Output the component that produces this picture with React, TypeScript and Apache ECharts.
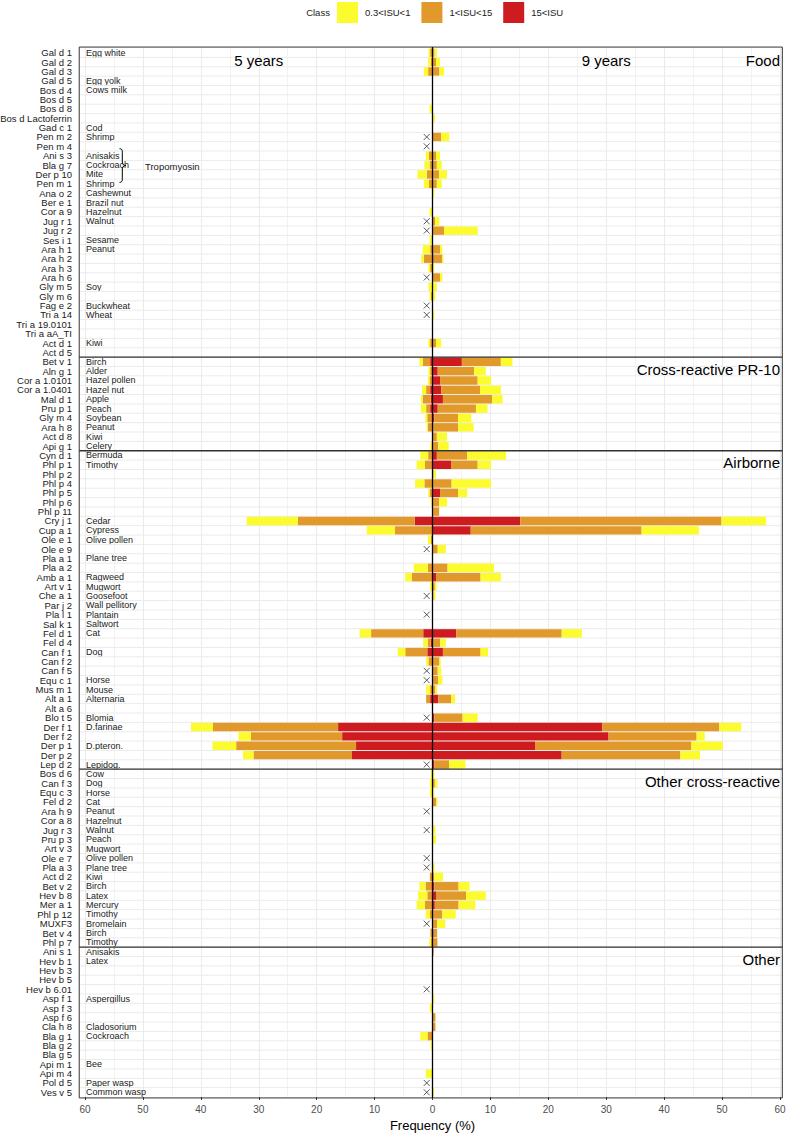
import React, { useEffect, useRef } from "react";
import * as echarts from "echarts";

const FONT = "'Liberation Sans', Arial, Helvetica, sans-serif";

const codes = [
  "Gal d 1", "Gal d 2", "Gal d 3", "Gal d 5", "Bos d 4", "Bos d 5", "Bos d 8", "Bos d Lactoferrin", "Gad c 1", "Pen m 2", "Pen m 4",
  "Ani s 3", "Bla g 7", "Der p 10", "Pen m 1", "Ana o 2", "Ber e 1", "Cor a 9", "Jug r 1", "Jug r 2", "Ses i 1", "Ara h 1",
  "Ara h 2", "Ara h 3", "Ara h 6", "Gly m 5", "Gly m 6", "Fag e 2", "Tri a 14", "Tri a 19.0101", "Tri a aA_TI", "Act d 1", "Act d 5",
  "Bet v 1", "Aln g 1", "Cor a 1.0101", "Cor a 1.0401", "Mal d 1", "Pru p 1", "Gly m 4", "Ara h 8", "Act d 8", "Api g 1",
  "Cyn d 1", "Phl p 1", "Phl p 2", "Phl p 4", "Phl p 5", "Phl p 6", "Phl p 11", "Cry j 1", "Cup a 1", "Ole e 1", "Ole e 9",
  "Pla a 1", "Pla a 2", "Amb a 1", "Art v 1", "Che a 1", "Par j 2", "Pla l 1", "Sal k 1", "Fel d 1", "Fel d 4", "Can f 1",
  "Can f 2", "Can f 5", "Equ c 1", "Mus m 1", "Alt a 1", "Alt a 6", "Blo t 5", "Der f 1", "Der f 2", "Der p 1", "Der p 2", "Lep d 2",
  "Bos d 6", "Can f 3", "Equ c 3", "Fel d 2", "Ara h 9", "Cor a 8", "Jug r 3", "Pru p 3", "Art v 3", "Ole e 7", "Pla a 3",
  "Act d 2", "Bet v 2", "Hev b 8", "Mer a 1", "Phl p 12", "MUXF3", "Bet v 4", "Phl p 7",
  "Ani s 1", "Hev b 1", "Hev b 3", "Hev b 5", "Hev b 6.01", "Asp f 1", "Asp f 3", "Asp f 6", "Cla h 8", "Bla g 1", "Bla g 2",
  "Bla g 5", "Api m 1", "Api m 4", "Pol d 5", "Ves v 5",
];

const sources = [
  "Egg white", "", "", "Egg yolk", "Cows milk", "", "", "", "Cod", "Shrimp", "",
  "Anisakis", "Cockroach", "Mite", "Shrimp", "Cashewnut", "Brazil nut", "Hazelnut", "Walnut", "", "Sesame", "Peanut",
  "", "", "", "Soy", "", "Buckwheat", "Wheat", "", "", "Kiwi", "",
  "Birch", "Alder", "Hazel pollen", "Hazel nut", "Apple", "Peach", "Soybean", "Peanut", "Kiwi", "Celery",
  "Bermuda", "Timothy", "", "", "", "", "", "Cedar", "Cypress", "Olive pollen", "",
  "Plane tree", "", "Ragweed", "Mugwort", "Goosefoot", "Wall pellitory", "Plantain", "Saltwort", "Cat", "", "Dog",
  "", "", "Horse", "Mouse", "Alternaria", "", "Blomia", "D.farinae", "", "D.pteron.", "", "Lepidog.",
  "Cow", "Dog", "Horse", "Cat", "Peanut", "Hazelnut", "Walnut", "Peach", "Mugwort", "Olive pollen", "Plane tree",
  "Kiwi", "Birch", "Latex", "Mercury", "Timothy", "Bromelain", "Birch", "Timothy",
  "Anisakis", "Latex", "", "", "", "Aspergillus", "", "", "Cladosorium", "Cockroach", "",
  "", "Bee", "", "Paper wasp", "Common wasp",
];

const facetNames = ["Food", "Cross-reactive PR-10", "Airborne", "Other cross-reactive", "Other"];
const facetStarts = [0, 33, 43, 77, 96];

const notTestedAt5 = [
  "Pen m 2", "Pen m 4", "Jug r 1", "Jug r 2", "Ara h 6", "Fag e 2", "Tri a 14",
  "Ole e 9", "Che a 1", "Pla l 1", "Can f 5", "Equ c 1", "Blo t 5", "Lep d 2",
  "Ara h 9", "Jug r 3", "Ole e 7", "Pla a 3", "MUXF3", "Hev b 6.01", "Pol d 5", "Ves v 5",
];

// Cumulative frequencies (%) at 5 years: ISU>15, ISU>1, ISU>0.3
const y5Over15 = [
  0, 0, 0, 0, 0, 0, 0, 0, 0, 0, 0, 0, 0, 0, 0, 0, 0, 0, 0, 0, 0, 0, 0, 0, 0, 0, 0, 0, 0, 0, 0, 0, 0,
  0.4, 0, 0, 0.4, 0.3, 0.4, 0, 0, 0, 0,
  0.1, 0, 0, 0, 0, 0, 0, 3.07, 0, 0, 0, 0, 0, 0, 0, 0, 0, 0, 0, 1.6, 0.3, 0.9, 0, 0, 0, 0, 0.4, 0, 0, 16.3, 15.6, 13.2, 13.9, 0,
  0, 0, 0, 0, 0, 0, 0, 0, 0, 0, 0, 0, 0, 0, 0, 0, 0, 0, 0,
  0, 0, 0, 0, 0, 0, 0, 0, 0, 0, 0, 0, 0, 0, 0, 0,
];
const y5Over1 = [
  0.4, 0.3, 0.75, 0, 0, 0, 0, 0, 0, 0, 0, 0.6, 0.5, 1.0, 0.6, 0, 0, 0, 0, 0, 0, 0.4, 1.5, 0.4, 0, 0, 0.25, 0, 0, 0, 0, 0.4, 0,
  1.7, 0.4, 0.5, 1.1, 1.7, 1.1, 0.9, 0.8, 0, 0,
  0.75, 1.3, 0, 1.4, 0.5, 0, 0, 23.25, 6.5, 0.3, 0, 0, 0.8, 3.55, 0, 0, 0, 0, 0, 10.6, 0.8, 4.7, 0.7, 0, 0, 0.4, 1.1, 0, 0, 37.9, 31.35, 33.9, 30.9, 0,
  0, 0, 0, 0, 0, 0, 0, 0, 0, 0, 0, 0.45, 1.2, 0.9, 1.3, 0.45, 0, 0.35, 0.25,
  0, 0, 0, 0, 0, 0, 0, 0, 0, 0.85, 0, 0, 0, 0, 0, 0,
];
const y5Over03 = [
  0.7, 0.75, 1.5, 0, 0, 0, 0.5, 0, 0, 0, 0, 1.15, 1.4, 2.6, 1.5, 0, 0, 0.5, 0, 0, 0.5, 1.7, 1.95, 0.7, 0, 0.7, 0.5, 0, 0, 0, 0, 0.7, 0,
  2.25, 0.7, 0.8, 1.8, 2.0, 2.0, 1.25, 1.0, 0, 0.35,
  2.1, 2.75, 0, 3.0, 0.75, 0.2, 0, 32.1, 11.35, 0.8, 0, 0, 3.25, 4.7, 0.4, 0, 0, 0, 0, 12.6, 1.6, 6.0, 1.1, 0, 0, 1.1, 1.1, 0, 0, 41.7, 33.5, 38.0, 32.7, 0,
  0.25, 0.45, 0.45, 0, 0, 0, 0, 0, 0, 0, 0, 0.45, 2.25, 2.5, 2.75, 1.15, 0, 0.35, 0.55,
  0, 0, 0, 0, 0, 0, 0.45, 0, 0, 2.1, 0.3, 0, 0, 1.15, 0, 0,
];

// Cumulative frequencies (%) at 9 years: ISU>15, ISU>1, ISU>0.3
const y9Over15 = [
  0, 0, 0, 0, 0, 0, 0, 0, 0, 0, 0, 0, 0, 0, 0, 0, 0, 0, 0, 0, 0, 0, 0.2, 0, 0, 0, 0, 0, 0, 0, 0, 0, 0,
  5.07, 0.9, 1.3, 1.5, 1.8, 0.9, 0.3, 0, 0, 0,
  0.75, 3.2, 0, 0, 1.3, 0, 0, 15.15, 6.6, 0, 0, 0, 0, 0.6, 0, 0, 0, 0, 0, 4.1, 0, 1.8, 0, 0, 0, 0, 1.0, 0, 0.3, 29.3, 30.4, 17.7, 22.3, 0.3,
  0, 0, 0, 0, 0, 0, 0, 0, 0, 0, 0, 0, 0.3, 0.7, 0.4, 0, 0, 0.2, 0,
  0.15, 0, 0, 0, 0, 0, 0, 0, 0, 0, 0, 0, 0, 0, 0, 0,
];
const y9Over1 = [
  0.35, 0.6, 1.2, 0, 0, 0, 0, 0, 0, 1.5, 0, 0.6, 0.75, 1.15, 0.75, 0, 0, 0, 0.45, 2.0, 0, 1.3, 1.7, 0, 1.3, 0, 0, 0, 0, 0, 0, 0.6, 0,
  11.8, 7.2, 7.8, 8.2, 10.3, 7.5, 4.4, 4.4, 0.75, 1.0,
  6.0, 7.8, 0.2, 3.3, 4.4, 1.15, 1.15, 49.9, 36.1, 0, 0.9, 0, 2.6, 8.3, 0.4, 0.2, 0, 0, 0, 22.3, 1.35, 8.3, 1.2, 0.9, 1.0, 0.5, 3.2, 0, 5.2, 49.5, 45.6, 44.7, 42.8, 2.9,
  0, 0.4, 0, 0.6, 0, 0, 0, 0, 0, 0, 0, 0.3, 4.5, 5.8, 4.5, 1.7, 0.8, 0.8, 0.85,
  0.15, 0, 0, 0, 0, 0, 0, 0.5, 0.5, 0, 0, 0, 0, 0, 0, 0,
];
const y9Over03 = [
  0.75, 1.3, 2.0, 0, 0, 0, 0, 0.4, 0, 2.9, 0, 1.3, 1.6, 2.5, 1.6, 0.3, 0, 0, 1.2, 7.8, 0, 1.7, 1.9, 0.3, 1.7, 0.75, 0.45, 0, 0.3, 0, 0, 1.5, 0,
  13.8, 9.2, 10.1, 11.8, 12.1, 9.5, 6.7, 7.1, 2.5, 2.8,
  12.7, 10.1, 0.6, 10.1, 6.0, 2.5, 1.15, 57.6, 46.0, 0, 2.3, 0, 10.6, 11.8, 0.7, 0.5, 0, 0, 0, 25.8, 2.3, 9.6, 1.4, 1.5, 1.7, 0.8, 3.9, 0, 7.8, 53.3, 47.0, 50.1, 46.2, 5.7,
  0.3, 0.85, 0.3, 0.85, 0, 0, 0.5, 0.6, 0, 0, 0.35, 1.8, 6.4, 9.2, 7.4, 4.0, 2.2, 0.8, 0.85,
  0.15, 0, 0, 0, 0, 0.3, 0, 0.5, 0.5, 0, 0, 0, 0, 0, 0, 0.25,
];

const classNames = ["0.3<ISU<1", "1<ISU<15", "15<ISU"];
const classColors = ["#FBFB2E", "#E1992B", "#CD1B1F"];

export default function App() {
  const ref = useRef<HTMLDivElement>(null);

  useEffect(() => {
    document.body.style.margin = "0";
    document.body.style.overflow = "hidden";
    const chart = echarts.init(ref.current!, null, { renderer: "svg" });

    const seg = (hi: number[], lo?: number[]) => hi.map((v, i) => Math.max(0, +(v - (lo ? lo[i] : 0)).toFixed(3)));
    const neg = (a: number[]) => a.map((v) => -v);
    const left = [seg(y5Over03, y5Over1), seg(y5Over1, y5Over15), seg(y5Over15)];
    const right = [seg(y9Over03, y9Over1), seg(y9Over1, y9Over15), seg(y9Over15)];

    const series: any[] = [];
    for (const k of [2, 1, 0]) {
      series.push({
        type: "bar", name: classNames[k], stack: "L", data: neg(left[k]),
        barWidth: "90%", barGap: "-100%", silent: true, z: 2,
        itemStyle: { color: classColors[k] },
      });
    }
    for (const k of [2, 1, 0]) {
      series.push({
        type: "bar", name: classNames[k], stack: "R", data: right[k],
        barWidth: "90%", barGap: "-100%", silent: true, z: 2,
        itemStyle: { color: classColors[k] },
      });
    }
    series.push({
      type: "scatter", data: notTestedAt5.map((c) => [-1, c]), silent: true,
      symbol: "path://M0,0L10,10M10,0L0,10", symbolSize: 6, z: 5,
      itemStyle: { color: "transparent", borderColor: "#333", borderWidth: 1 },
    });

    chart.setOption({
      animation: false,
      backgroundColor: "#fff",
      textStyle: { fontFamily: FONT },
      legend: {
        data: classNames, left: 337, top: 2, padding: 0, itemWidth: 21, itemHeight: 21, itemGap: 11,
        icon: "rect", selectedMode: false,
        textStyle: { fontSize: 9.5, color: "#1a1a1a", fontFamily: FONT, padding: [0, 0, 0, 2] },
      },
      grid: { left: 85, right: 7, top: 48, height: 1049, containLabel: false, outerBoundsMode: "none" },
      xAxis: {
        type: "value", min: -60, max: 60, interval: 10,
        axisLine: { show: false },
        axisTick: { show: true, length: 3, lineStyle: { color: "#333", width: 1 } },
        axisLabel: { fontSize: 10, color: "#4D4D4D", margin: 7, fontFamily: FONT, formatter: (v: number) => String(Math.abs(v)) },
        splitLine: { show: true, lineStyle: { color: "#EBEBEB", width: 1 } },
        minorTick: { show: false, splitNumber: 2 },
        minorSplitLine: { show: true, lineStyle: { color: "#F2F2F2", width: 1 } },
        name: "Frequency (%)", nameLocation: "middle", nameGap: 22,
        nameTextStyle: { fontSize: 13, color: "#000", fontFamily: FONT },
      },
      yAxis: [
        {
          type: "category", data: codes, inverse: true,
          axisLine: { show: false }, axisTick: { show: false }, splitLine: { show: false },
          axisLabel: { interval: 0, fontSize: 9.5, color: "#1a1a1a", margin: 13, fontFamily: FONT },
        },
        {
          type: "category", data: codes, inverse: true, position: "left",
          axisLine: { show: false }, axisTick: { show: false }, splitLine: { show: false },
          axisLabel: {
            interval: 0, inside: true, fontSize: 9, color: "#1a1a1a", margin: 1, fontFamily: FONT,
            formatter: (_v: string, i: number) => sources[i],
          },
        },
      ],
      series,
    });

    const px = (v: number) => chart.convertToPixel({ xAxisIndex: 0 }, v) as number;
    const py = (i: number) => chart.convertToPixel({ yAxisIndex: 0 }, i) as number;
    const step = py(1) - py(0);
    const top = py(0) - 0.6 * step;
    const bottom = py(codes.length - 1) + 0.6 * step;
    const xl = px(-61);
    const xr = px(60.4);

    const g: any[] = [];
    for (let i = 1; i < codes.length; i++) {
      const y = (py(i - 1) + py(i)) / 2;
      g.push({ type: "line", z: 1, silent: true, shape: { x1: xl, y1: y, x2: xr, y2: y }, style: { stroke: "#EBEBEB", lineWidth: 1 } });
    }
    g.push({ type: "rect", z: 10, silent: true, shape: { x: xl, y: top, width: xr - xl, height: bottom - top }, style: { fill: "none", stroke: "#333", lineWidth: 1 } });
    facetStarts.slice(1).forEach((s) => {
      const y = (py(s - 1) + py(s)) / 2;
      g.push({ type: "line", z: 10, silent: true, shape: { x1: xl, y1: y, x2: xr, y2: y }, style: { stroke: "#333", lineWidth: 1.3 } });
    });
    g.push({ type: "line", z: 20, silent: true, shape: { x1: px(0), y1: top, x2: px(0), y2: bottom }, style: { stroke: "#000", lineWidth: 1.3 } });
    facetStarts.forEach((s, k) => {
      g.push({
        type: "text", z: 20, silent: true, x: px(60), y: py(s) + 0.8 * step,
        style: { text: facetNames[k], fontSize: 15, fontFamily: FONT, fill: "#000", align: "right", verticalAlign: "middle" },
      });
    });
    g.push({ type: "text", z: 20, silent: true, x: px(-30), y: py(0) + 0.8 * step, style: { text: "5 years", fontSize: 15, fontFamily: FONT, fill: "#000", align: "center", verticalAlign: "middle" } });
    g.push({ type: "text", z: 20, silent: true, x: px(30), y: py(0) + 0.8 * step, style: { text: "9 years", fontSize: 15, fontFamily: FONT, fill: "#000", align: "center", verticalAlign: "middle" } });

    // Tropomyosin brace
    const i0 = codes.indexOf("Ani s 3");
    const i1 = codes.indexOf("Pen m 1");
    const yT = py(i0) - 0.75 * step;
    const yB = py(i1) - 0.15 * step;
    const yM = (yT + yB) / 2;
    const bx = 119.5, bodyX = 122.3, tipX = 126;
    const st = { stroke: "#000", lineWidth: 1, fill: "none" };
    g.push({ type: "bezierCurve", z: 20, silent: true, shape: { x1: bx, y1: yT, cpx1: bx + 2.2, cpy1: yT, cpx2: bodyX, cpy2: yT + 1, x2: bodyX, y2: yT + 3.5 }, style: st });
    g.push({ type: "line", z: 20, silent: true, shape: { x1: bodyX, y1: yT + 3.5, x2: bodyX, y2: yM - 3.5 }, style: st });
    g.push({ type: "bezierCurve", z: 20, silent: true, shape: { x1: bodyX, y1: yM - 3.5, cpx1: bodyX, cpy1: yM - 1, cpx2: bodyX + 1.5, cpy2: yM, x2: tipX, y2: yM }, style: st });
    g.push({ type: "bezierCurve", z: 20, silent: true, shape: { x1: tipX, y1: yM, cpx1: bodyX + 1.5, cpy1: yM, cpx2: bodyX, cpy2: yM + 1, x2: bodyX, y2: yM + 3.5 }, style: st });
    g.push({ type: "line", z: 20, silent: true, shape: { x1: bodyX, y1: yM + 3.5, x2: bodyX, y2: yB - 3.5 }, style: st });
    g.push({ type: "bezierCurve", z: 20, silent: true, shape: { x1: bodyX, y1: yB - 3.5, cpx1: bodyX, cpy1: yB - 1, cpx2: bx + 2.2, cpy2: yB, x2: bx, y2: yB }, style: st });
    g.push({ type: "text", z: 20, silent: true, x: 145, y: yM + 0.5, style: { text: "Tropomyosin", fontSize: 9.5, fontFamily: FONT, fill: "#1a1a1a", align: "left", verticalAlign: "middle" } });

    g.push({ type: "text", z: 20, silent: true, x: 318, y: 12.5, style: { text: "Class", fontSize: 9.5, fontFamily: FONT, fill: "#1a1a1a", align: "center", verticalAlign: "middle" } });

    chart.setOption({ graphic: { elements: g } });

    return () => chart.dispose();
  }, []);

  return <div ref={ref} style={{ position: "absolute", left: 0, top: 0, width: 787, height: 1134 }} />;
}
